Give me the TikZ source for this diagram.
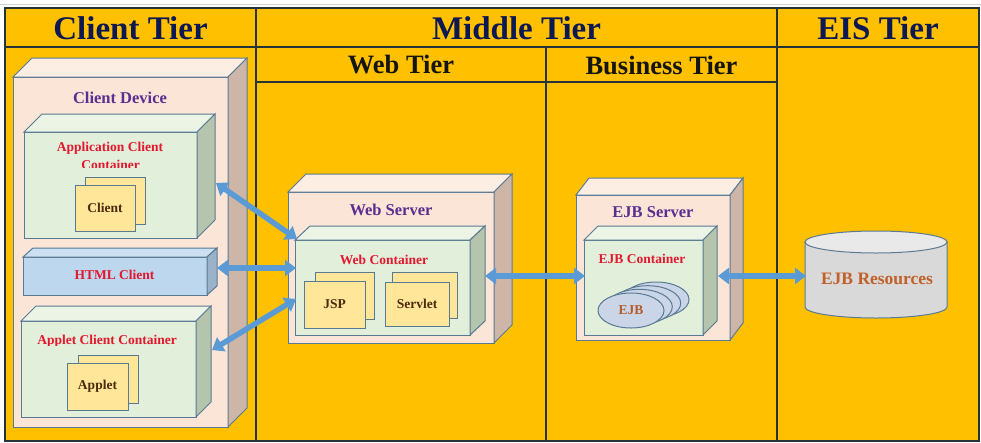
\documentclass[tikz,border=0pt]{standalone}
\usepackage{fontspec}
\setmainfont{Liberation Serif}
\usetikzlibrary{arrows.meta,shapes.geometric}

\definecolor{tierfill}{HTML}{FFC000}
\definecolor{gridc}{HTML}{26343A}
\definecolor{headc}{HTML}{0C1852}
\definecolor{subheadc}{HTML}{15150F}
\definecolor{edgec}{HTML}{5A7A94}
\definecolor{peach}{HTML}{FBE5D6}
\definecolor{peachtop}{HTML}{FDEEE4}
\definecolor{peachside}{HTML}{CDB6A8}
\definecolor{green}{HTML}{E2EFDA}
\definecolor{greentop}{HTML}{EBF4E5}
\definecolor{greenside}{HTML}{B5C4AC}
\definecolor{blue}{HTML}{BDD7EE}
\definecolor{bluetop}{HTML}{CCE0F2}
\definecolor{blueside}{HTML}{9BB3CA}
\definecolor{docfill}{HTML}{FFE699}
\definecolor{doctext}{HTML}{4B2A0F}
\definecolor{purplec}{HTML}{5B2E91}
\definecolor{redc}{HTML}{E3172D}
\definecolor{beanfill}{HTML}{CAD5E8}
\definecolor{beantext}{HTML}{B35A2A}
\definecolor{dbbody}{HTML}{D9D9D9}
\definecolor{dbtop}{HTML}{E9E9E9}
\definecolor{dbtext}{HTML}{C0602A}
\definecolor{arrowc}{HTML}{5B9BD5}

% solid box: name, left, top, right, bottom, depth offset, front, side, top face
\newcommand\solidbox[9]{%
  \node[boxface, fill=#7, anchor=north west,
        minimum width={(#4-#2)*1pt}, minimum height={(#5-#3)*1pt}] (#1) at (#2,#3) {};
  \path[boxface, fill=#9] (#1.north west) -- ++(#6) -- ++({#4-#2},0) -- (#1.north east) -- cycle;
  \path[boxface, fill=#8] (#1.north east) -- ++(#6) -- ++(0,{#5-#3}) -- (#1.south east) -- cycle;
}

\begin{document}
\begin{tikzpicture}[x=1pt,y=-1pt,
  grid/.style={draw=gridc, line width=2pt},
  tierhead/.style={text=headc, font=\fontsize{33}{33}\selectfont\bfseries, inner sep=0pt},
  subhead/.style={text=subheadc, font=\fontsize{26.5}{26.5}\selectfont\bfseries, inner sep=0pt},
  boxface/.style={draw=edgec, line width=1pt, inner sep=0pt, outer sep=0pt},
  hostlabel/.style={text=purplec, font=\fontsize{16.5}{16.5}\selectfont\bfseries, inner sep=0pt},
  contlabel/.style={text=redc, font=\fontsize{13.5}{13.5}\selectfont\bfseries, inner sep=0pt},
  doc/.style={draw=edgec, line width=1pt, fill=docfill, anchor=north west, inner sep=0pt, outer sep=0pt,
    text=doctext, font=\fontsize{13.5}{13.5}\selectfont\bfseries},
  bean/.style={ellipse, draw=edgec, line width=1pt, fill=beanfill, minimum width=66pt, minimum height=35pt, inner sep=0pt},
  biarrow/.style={draw=arrowc, line width=5.5pt,
    {Triangle[length=11pt,width=16pt]}-{Triangle[length=11pt,width=16pt]}}]

\useasboundingbox (0,0) rectangle (981,442);
\fill[white] (0,0) rectangle (981,442);
\draw[gray!35, line width=1pt] (0,4.5) -- (981,4.5);

% tier table
\fill[tierfill] (5,8) rectangle (979,441);
\draw[grid] (5,8) rectangle (979,441);
\draw[grid] (5,47) -- (979,47);
\draw[grid] (256,8) -- (256,441);
\draw[grid] (777,8) -- (777,441);
\draw[grid] (546,47) -- (546,441);
\draw[grid] (256,82) -- (777,82);

\node[tierhead] (hclient) at (130.5,28) {Client Tier};
\node[tierhead] (hmiddle) at (516.5,28) {Middle Tier};
\node[tierhead] (heis) at (878,28) {EIS Tier};
\node[subhead] (hweb) at (401,65) {Web Tier};
\node[subhead] (hbiz) at (661.5,65) {Business Tier};

% client device
\solidbox{cdev}{13}{77}{228}{427}{19,-19}{peach}{peachside}{peachtop}
\node[hostlabel] (cdevlbl) at (120,98) {Client Device};

\solidbox{appc}{24}{132}{197}{238}{18,-18}{green}{greenside}{greentop}
\node[contlabel] (appclbl) at (110,148.5) {Application Client};
\begin{scope}
  \clip (24,155) rectangle (197,167.5);
  \node[contlabel] (appclbltwo) at (110.5,164.5) {Container};
\end{scope}
\node[doc, minimum width=60pt, minimum height=47pt] (clientback) at (85,177) {};
\node[doc, minimum width=60pt, minimum height=46pt] (client) at (75,185) {Client};

\solidbox{html}{23}{257}{207}{295}{10,-9}{blue}{blueside}{bluetop}
\node[contlabel] (htmllbl) at (114.5,275) {HTML Client};

\solidbox{appletc}{21}{321}{196}{417}{15,-15}{green}{greenside}{greentop}
\begin{scope}
  \clip (21,330) rectangle (196,345);
  \node[contlabel] (appletclbl) at (107,341.5) {Applet Client Container};
\end{scope}
\node[doc, minimum width=60pt, minimum height=48pt] (appletback) at (78,355) {};
\node[doc, minimum width=61pt, minimum height=47pt] (applet) at (67,363) {Applet};

% web server
\solidbox{websrv}{288}{192}{494}{343}{18,-18}{peach}{peachside}{peachtop}
\node[hostlabel] (websrvlbl) at (391,210) {Web Server};
\solidbox{webc}{295}{240}{470}{335}{15,-14}{green}{greenside}{greentop}
\node[contlabel] (webclbl) at (384,259.5) {Web Container};
\node[doc, minimum width=59pt, minimum height=47pt] (jspback) at (315,272) {};
\node[doc, minimum width=61pt, minimum height=47pt] (jsp) at (304,281) {JSP};
\node[doc, minimum width=65pt, minimum height=46pt] (servletback) at (392,272) {};
\node[doc, minimum width=64pt, minimum height=44pt] (servlet) at (385,282) {Servlet};

% EJB server
\solidbox{ejbsrv}{576}{195}{730}{340}{13,-17}{peach}{peachside}{peachtop}
\node[hostlabel] (ejbsrvlbl) at (653,212) {EJB Server};
\solidbox{ejbc}{584}{240}{703}{335}{14,-14}{green}{greenside}{greentop}
\node[contlabel] (ejbclbl) at (642,259) {EJB Container};
\node[bean] (beanc) at (656,299.5) {};
\node[bean] (beanb) at (647.7,303.2) {};
\node[bean] (beana) at (639.3,306.8) {};
\node[bean, text=beantext, font=\fontsize{13.5}{13.5}\selectfont\bfseries] (ejb) at (631,310.5) {EJB};

% EJB resources store
\fill[dbbody, draw=edgec, line width=1pt] (805,242) -- (805,307)
  arc[start angle=180, end angle=360, x radius=71pt, y radius=11pt] -- (947,242) -- cycle;
\draw[fill=dbtop, draw=edgec, line width=1pt] (876,242) ellipse [x radius=71pt, y radius=11pt];
\node[text=dbtext, font=\fontsize{17.5}{17.5}\selectfont\bfseries, inner sep=0pt] (res) at (877,279) {EJB Resources};

% connectors
\coordinate (appcport) at (216,183);
\coordinate (htmlport) at (217,268);
\coordinate (appletport) at (212,350);
\coordinate (webcin) at (297,239);
\coordinate (webcmid) at (296,268);
\coordinate (webclow) at (296,299);
\coordinate (websrvout) at (485,276);
\coordinate (ejbcin) at (585,276);
\coordinate (ejbcout) at (718,276);
\coordinate (resin) at (806,276);

\draw[biarrow] (appcport) -- (webcin);
\draw[biarrow] (htmlport) -- (webcmid);
\draw[biarrow] (appletport) -- (webclow);
\draw[biarrow] (websrvout) -- (ejbcin);
\draw[biarrow] (ejbcout) -- (resin);

\end{tikzpicture}
\end{document}
